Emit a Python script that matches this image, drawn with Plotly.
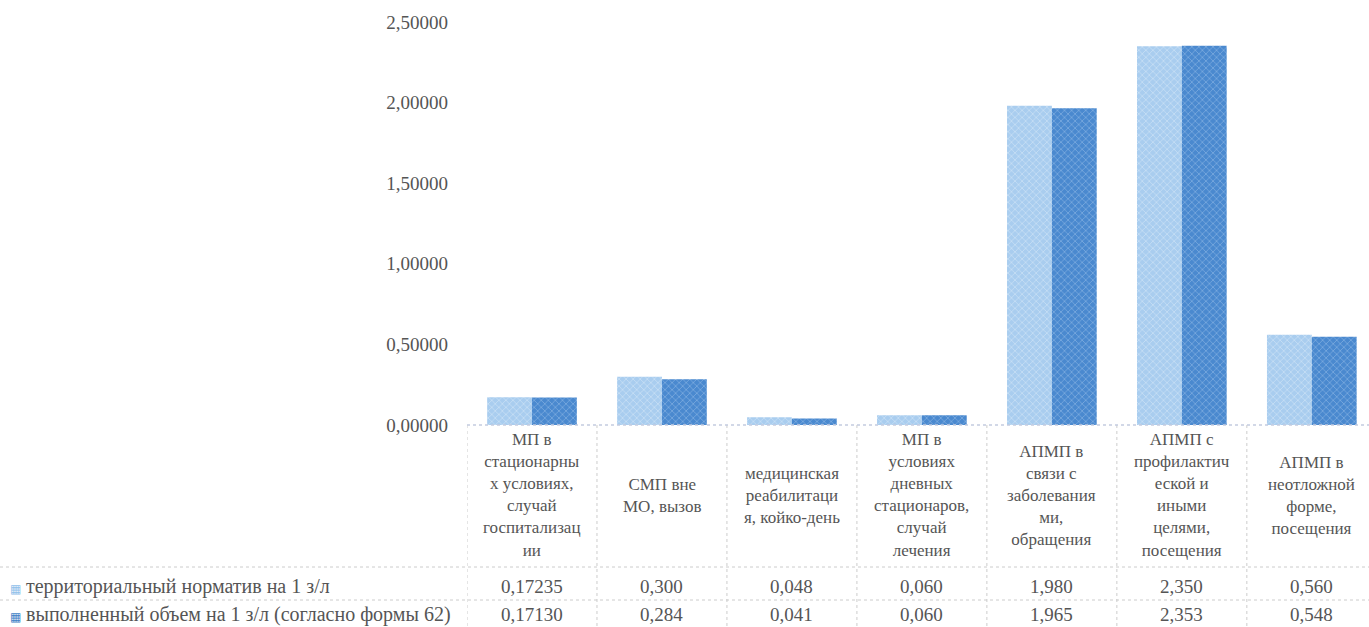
import plotly.graph_objects as go

categories = [
    "МП в<br>стационарны<br>х условиях,<br>случай<br>госпитализац<br>ии",
    "СМП вне<br>МО, вызов",
    "медицинская<br>реабилитаци<br>я, койко-день",
    "МП в<br>условиях<br>дневных<br>стационаров,<br>случай<br>лечения",
    "АПМП в<br>связи с<br>заболевания<br>ми,<br>обращения",
    "АПМП с<br>профилактич<br>еской и<br>иными<br>целями,<br>посещения",
    "АПМП в<br>неотложной<br>форме,<br>посещения",
]
series_names = [
    "территориальный норматив на 1 з/л",
    "выполненный объем на 1 з/л (согласно формы 62)",
]
norm_values = [0.17235, 0.300, 0.048, 0.060, 1.980, 2.350, 0.560]
done_values = [0.17130, 0.284, 0.041, 0.060, 1.965, 2.353, 0.548]
norm_labels = ["0,17235", "0,300", "0,048", "0,060", "1,980", "2,350", "0,560"]
done_labels = ["0,17130", "0,284", "0,041", "0,060", "1,965", "2,353", "0,548"]
y_ticks = [0, 0.5, 1.0, 1.5, 2.0, 2.5]

FONT = "Liberation Serif, Times New Roman, serif"
TXT = "#555555"
GRID = "#cccccc"

x_idx = list(range(len(categories)))

fig = go.Figure()
fig.add_trace(go.Bar(
    x=x_idx, y=norm_values, name=series_names[0],
    marker=dict(color="#aacff1", line=dict(width=0),
                pattern=dict(shape="x", fgcolor="#e4f0fb", bgcolor="#a9cdef", size=5, solidity=0.3)),
))
fig.add_trace(go.Bar(
    x=x_idx, y=done_values, name=series_names[1],
    marker=dict(color="#4f8fd3", line=dict(width=0),
                pattern=dict(shape="x", fgcolor="#a9caee", bgcolor="#4a89cf", size=5, solidity=0.3)),
))

H = 627
top_px, bot_px = 22, 425
def py(px):
    return (bot_px - px) / (bot_px - top_px)

annotations = []
shapes = []
for i, c in enumerate(categories):
    annotations.append(dict(x=i, y=py(495), xref="x", yref="paper", text=c, showarrow=False,
                            font=dict(family=FONT, size=17, color=TXT), align="center",
                            xanchor="center", yanchor="middle"))
row_y = [586, 614]
for r, (labels, nm, col) in enumerate([(norm_labels, series_names[0], "#8fc0ea"),
                                        (done_labels, series_names[1], "#3f7fc6")]):
    for i, t in enumerate(labels):
        annotations.append(dict(x=i, y=py(row_y[r]), xref="x", yref="paper", text=t, showarrow=False,
                                font=dict(family=FONT, size=19, color=TXT),
                                xanchor="center", yanchor="middle"))
    annotations.append(dict(x=0, y=py(row_y[r]), xref="paper", yref="paper",
                            text="<span style='color:%s;font-size:12px'>▦</span> %s" % (col, nm),
                            showarrow=False, font=dict(family=FONT, size=20, color=TXT),
                            xanchor="left", yanchor="middle", xshift=-467 + 8))

line_style = dict(color=GRID, width=1, dash="dot")
for k in range(len(categories) + 1):
    shapes.append(dict(type="line", xref="x", yref="paper", x0=k - 0.5, x1=k - 0.5,
                       y0=py(425), y1=py(627), line=line_style))
for ypx in [567, 600]:
    shapes.append(dict(type="line", xref="paper", yref="paper", x0=-467 / 902, x1=1,
                       y0=py(ypx), y1=py(ypx), line=line_style))
shapes.append(dict(type="line", xref="paper", yref="paper", x0=0, x1=1,
                   y0=0, y1=0, line=dict(color="#c4cbe0", width=1.5, dash="dot")))

fig.update_layout(
    width=1369, height=627,
    margin=dict(l=467, r=0, t=top_px, b=H - bot_px),
    paper_bgcolor="white", plot_bgcolor="white",
    barmode="group", bargap=0.31, bargroupgap=0,
    showlegend=False,
    separators=", ",
    font=dict(family=FONT, color=TXT),
    xaxis=dict(range=[-0.5, 6.44], showticklabels=False, showgrid=False, zeroline=False,
               showline=False, ticks=""),
    yaxis=dict(range=[0, 2.5], tickvals=y_ticks, tickformat=".5f", showgrid=False,
               zeroline=False, showline=False, ticks="", ticklabelstandoff=18,
               tickfont=dict(family=FONT, size=19, color=TXT)),
    annotations=annotations,
    shapes=shapes,
)

fig.write_html("out.html", config={"displayModeBar": False},
               post_script="document.body.style.margin='0';document.body.style.overflow='hidden';")
